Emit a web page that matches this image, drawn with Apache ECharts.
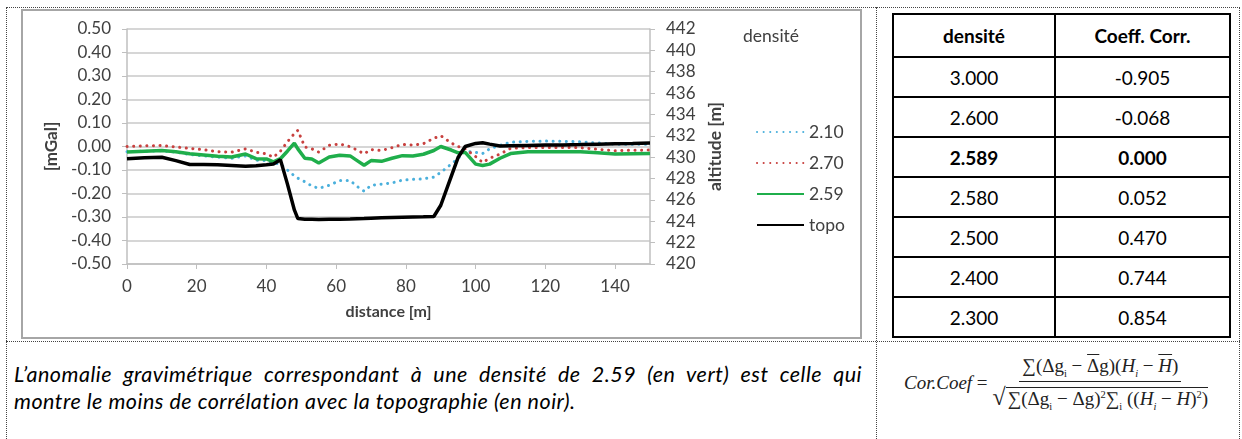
<!DOCTYPE html>
<html>
<head>
<meta charset="utf-8">
<script src="https://cdn.jsdelivr.net/npm/echarts@6/dist/echarts.min.js"></script>
<style>
  html, body { margin: 0; padding: 0; background: #fff; }
  body { width: 1242px; height: 439px; position: relative; overflow: hidden; font-family: Lato, sans-serif; }
  .dot-h { position: absolute; height: 0; border-top: 1px dotted #444; }
  .dot-v { position: absolute; width: 0; border-left: 1px dotted #444; }
  #frame { position: absolute; left: 21px; top: 9px; width: 837px; height: 326px; border: 2px solid #a6a6a6; }
  #chart { position: absolute; left: 0; top: 0; width: 870px; height: 341px; }
  #corr { position: absolute; left: 892px; top: 13px; width: 339px; border-collapse: collapse; font-size: 19px; color: #000; }
  #corr td, #corr th { border: 2.5px solid #000; text-align: center; padding: 0; height: 38px; }
  #corr th { height: 41px; font-weight: bold; }
  #corr tr.bold td { font-weight: bold; }
  .note { position: absolute; left: 14px; width: 848px; font-style: italic; font-size: 21.5px; letter-spacing: 0.5px; line-height: 24px; color: #000; white-space: nowrap; }
  #note1 { top: 362px; text-align: justify; text-align-last: justify; }
  #note2 { top: 389px; }
  #formula { position: absolute; left: 904px; top: 355px; font-family: 'Liberation Serif', serif; font-size: 19px; display: flex; align-items: center; color: #222; white-space: nowrap; }
  #formula .frac { display: inline-flex; flex-direction: column; align-items: center; margin-left: 5px; }
  #formula .num { padding: 0 3px 2px; border-bottom: 1px solid #222; }
  #formula .den { padding-top: 2px; }
  #formula .ov { text-decoration: overline; }
  #formula .root { border-top: 1px solid #222; padding-left: 2px; }
  #formula .sq { font-size: 24px; }
  #formula sub, #formula sup { font-size: 10.5px; }
</style>
</head>
<body>
<div class="dot-h" style="left:6px; top:7px; width:1234px;"></div>
<div class="dot-h" style="left:6px; top:341px; width:1234px;"></div>
<div class="dot-v" style="left:6px; top:7px; height:432px;"></div>
<div class="dot-v" style="left:876px; top:7px; height:432px;"></div>
<div class="dot-v" style="left:1239px; top:7px; height:432px;"></div>
<div id="frame"></div>
<div id="chart"></div>
<table id="corr"></table>
<div class="note" id="note1">L’anomalie gravimétrique correspondant à une densité de 2.59 (en vert) est celle qui</div>
<div class="note" id="note2">montre le moins de corrélation avec la topographie (en noir).</div>
<div id="formula">
  <span><i>Cor.Coef</i> =</span>
  <span class="frac">
    <span class="num">∑(Δg<sub>i</sub> − <span class="ov">Δ</span>g)(<i>H<sub>i</sub></i> − <span class="ov"><i>H</i></span>)</span>
    <span class="den"><span class="sq">√</span><span class="root">∑(Δg<sub>i</sub> − <span class="ov">Δ</span>g)<sup>2</sup>∑<sub>i</sub> ((<i>H<sub>i</sub></i> − <span class="ov"><i>H</i></span>)<sup>2</sup>)</span></span>
  </span>
</div>
<script>
// distance along the profile [m]
const distance = [0, 5, 10, 14, 18, 22, 26, 30, 34, 37, 40, 42, 44, 46, 48, 49, 51, 53, 55, 58, 61, 64, 66, 68, 70, 73, 76, 79, 82, 85, 88, 90, 93, 95, 97, 100, 102, 104, 107, 110, 115, 120, 125, 130, 135, 140, 145, 150];

// gravity anomaly [mGal] for each density
const d210 = [-0.022, -0.020, -0.018, -0.024, -0.034, -0.040, -0.045, -0.050, -0.040, -0.058, -0.060, -0.070, -0.075, -0.100, -0.125, -0.135, -0.150, -0.168, -0.178, -0.165, -0.145, -0.145, -0.170, -0.190, -0.165, -0.160, -0.155, -0.143, -0.140, -0.138, -0.130, -0.110, -0.075, -0.050, -0.020, -0.025, -0.030, -0.010, 0.005, 0.018, 0.022, 0.023, 0.022, 0.020, 0.015, 0.010, 0.010, 0.010];
const d270 = [0.000, 0.003, 0.004, -0.002, -0.008, -0.014, -0.022, -0.024, -0.010, -0.024, -0.031, -0.046, -0.020, 0.020, 0.055, 0.069, -0.002, -0.010, -0.024, 0.005, 0.011, -0.001, -0.015, -0.031, -0.013, -0.017, -0.005, 0.009, 0.006, 0.012, 0.035, 0.046, 0.015, 0.000, -0.010, -0.043, -0.068, -0.050, -0.032, -0.008, -0.004, -0.004, -0.004, -0.005, -0.012, -0.018, -0.016, -0.015];
const d259 = [-0.023, -0.020, -0.017, -0.022, -0.031, -0.036, -0.041, -0.045, -0.032, -0.052, -0.053, -0.065, -0.052, -0.020, 0.014, -0.010, -0.050, -0.053, -0.070, -0.045, -0.037, -0.040, -0.060, -0.080, -0.060, -0.063, -0.050, -0.039, -0.040, -0.033, -0.017, 0.000, -0.015, -0.027, -0.025, -0.075, -0.081, -0.075, -0.050, -0.030, -0.022, -0.022, -0.022, -0.022, -0.027, -0.032, -0.031, -0.030];

// topography [m]
const topo = [429.86, 429.95, 429.99, 429.68, 429.31, 429.31, 429.28, 429.22, 429.15, 429.20, 429.30, 429.37, 429.77, 427.50, 425.06, 424.25, 424.20, 424.18, 424.16, 424.18, 424.20, 424.22, 424.24, 424.25, 424.28, 424.32, 424.35, 424.38, 424.40, 424.42, 424.45, 425.50, 428.20, 430.00, 431.00, 431.29, 431.35, 431.22, 431.04, 431.07, 431.10, 431.13, 431.15, 431.18, 431.22, 431.26, 431.29, 431.33];

const seriesNames = ['2.10', '2.70', '2.59', 'topo'];

// correlation table
const tableDensity = ['3.000', '2.600', '2.589', '2.580', '2.500', '2.400', '2.300'];
const tableCorr = ['-0.905', '-0.068', '0.000', '0.052', '0.470', '0.744', '0.854'];
const boldRow = '2.589';

const table = document.getElementById('corr');
let html = '<tr><th style="width:160px">densité</th><th>Coeff. Corr.</th></tr>';
tableDensity.forEach((d, i) => {
  html += '<tr' + (d === boldRow ? ' class="bold"' : '') + '><td>' + d + '</td><td>' + tableCorr[i] + '</td></tr>';
});
table.innerHTML = html;

const font = 'Lato';
const labelColor = '#404040';
const pair = vals => distance.map((x, i) => [x, vals[i]]);
const dots = [0.1, 6.5];

const chart = echarts.init(document.getElementById('chart'), null, { renderer: 'canvas' });
chart.setOption({
  animation: false,
  backgroundColor: 'transparent',
  textStyle: { fontFamily: font },
  grid: { left: 127, top: 29, width: 523, height: 235 },
  graphic: [{
    type: 'text', left: 743, top: 27,
    style: { text: 'densité', font: '17.5px Lato', fill: labelColor }
  }],
  legend: {
    data: seriesNames,
    orient: 'vertical',
    left: 751, top: 118,
    itemWidth: 47, itemHeight: 14, itemGap: 13,
    itemStyle: { opacity: 0 },
    textStyle: { fontSize: 17.5, color: labelColor, fontFamily: font }
  },
  xAxis: {
    type: 'value', min: 0, max: 150, interval: 20,
    name: 'distance [m]', nameLocation: 'middle', nameGap: 40,
    nameTextStyle: { fontWeight: 'bold', fontSize: 16, color: labelColor },
    axisLine: { onZero: false, lineStyle: { color: '#bfbfbf', width: 1.5 } },
    axisTick: { show: true, length: 5, lineStyle: { color: '#bfbfbf' } },
    axisLabel: { fontSize: 17, color: labelColor, margin: 14, showMaxLabel: false },
    splitLine: { show: false }
  },
  yAxis: [{
    type: 'value', min: -0.5, max: 0.5, interval: 0.1,
    name: '[mGal]', nameLocation: 'middle', nameGap: 64, nameRotate: 90,
    nameTextStyle: { fontWeight: 'bold', fontSize: 17, color: labelColor },
    axisLine: { show: true, lineStyle: { color: '#bfbfbf', width: 1.5 } },
    axisTick: { show: true, length: 5, lineStyle: { color: '#bfbfbf' } },
    axisLabel: { fontSize: 17, color: labelColor, margin: 16, formatter: v => v.toFixed(2) },
    splitLine: { show: true, lineStyle: { color: '#c8c8c8', width: 1.5 } }
  }, {
    type: 'value', min: 420, max: 442, interval: 2, position: 'right',
    name: 'altitude [m]', nameLocation: 'middle', nameGap: 54, nameRotate: 90,
    nameTextStyle: { fontWeight: 'bold', fontSize: 17.5, color: labelColor },
    axisLine: { show: true, lineStyle: { color: '#bfbfbf', width: 1.5 } },
    axisTick: { show: true, length: 5, lineStyle: { color: '#bfbfbf' } },
    axisLabel: { fontSize: 17, color: labelColor, margin: 16 },
    splitLine: { show: false }
  }],
  series: [{
    name: '2.10', type: 'line', data: pair(d210), yAxisIndex: 0,
    symbol: 'none', itemStyle: { color: '#4bb0dc' },
    lineStyle: { color: '#4bb0dc', width: 3, type: dots, cap: 'round' }
  }, {
    name: '2.70', type: 'line', data: pair(d270), yAxisIndex: 0,
    symbol: 'none', itemStyle: { color: '#c8413f' },
    lineStyle: { color: '#c8413f', width: 3, type: dots, cap: 'round' }
  }, {
    name: '2.59', type: 'line', data: pair(d259), yAxisIndex: 0,
    symbol: 'none', itemStyle: { color: '#1fae4b' },
    lineStyle: { color: '#1fae4b', width: 3.5 }
  }, {
    name: 'topo', type: 'line', data: pair(topo), yAxisIndex: 1,
    symbol: 'none', itemStyle: { color: '#000' },
    lineStyle: { color: '#000', width: 3.5 }
  }]
});
</script>
</body>
</html>
